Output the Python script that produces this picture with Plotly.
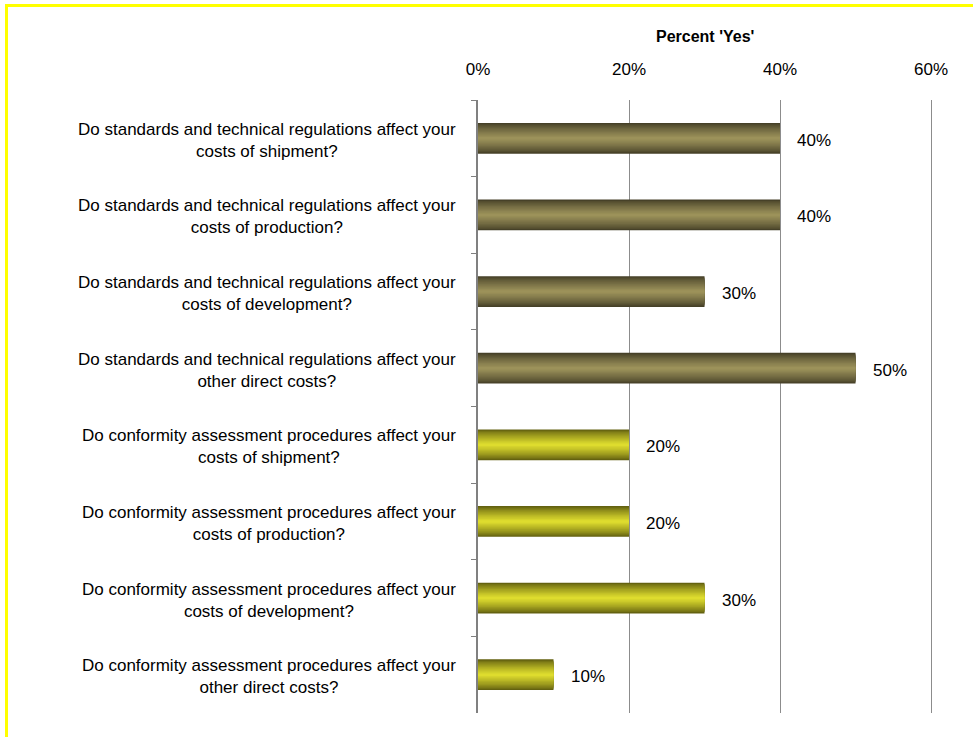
import plotly.graph_objects as go

categories = [
    "Do standards and technical regulations affect your<br>costs of shipment?",
    "Do standards and technical regulations affect your<br>costs of production?",
    "Do standards and technical regulations affect your<br>costs of development?",
    "Do standards and technical regulations affect your<br>other direct costs?",
    "Do conformity assessment procedures affect your<br>costs of shipment?",
    "Do conformity assessment procedures affect your<br>costs of production?",
    "Do conformity assessment procedures affect your<br>costs of development?",
    "Do conformity assessment procedures affect your<br>other direct costs?",
]
values = [0.40, 0.40, 0.30, 0.50, 0.20, 0.20, 0.30, 0.10]
groups = ["std", "std", "std", "std", "conf", "conf", "conf", "conf"]
tick_vals = [0, 0.2, 0.4, 0.6]
tick_text = ["0%", "20%", "40%", "60%"]
axis_title = "Percent 'Yes'"

W, H = 973, 737
L, R, T, B = 478, 36, 100, 24
pw, ph = W - L - R, H - T - B
x_end = 0.6 * pw / 453.0  # keeps 60% at the same pixel while leaving room for its gridline

def px_x(p):
    return (p - L) / pw

def px_y(p):
    return (H - B - p) / ph

FONT = "Liberation Sans, Arial"
edge = {"std": (0x46, 0x41, 0x28), "conf": (0x64, 0x62, 0x10)}
center = {"std": (0x9c, 0x92, 0x5a), "conf": (0xde, 0xdc, 0x2e)}

def mix(a, b, t):
    return "rgb(%d,%d,%d)" % tuple(round(a[i] + (b[i] - a[i]) * t) for i in range(3))

fig = go.Figure()
N = 12
bar_w = 0.4
for i in range(N):
    t = i / (N - 1)
    w = bar_w * (1 - i / N)
    cols = [mix(edge[g], center[g], t ** 0.8) for g in groups]
    fig.add_trace(go.Bar(
        x=values, y=categories, orientation="h", width=w,
        marker=dict(color=cols, line=dict(width=0)),
        showlegend=False, hoverinfo="skip",
    ))

for cat, v in zip(categories, values):
    fig.add_annotation(x=v, y=cat, xref="x", yref="y", text=f"{v:.0%}",
                       showarrow=False, xanchor="left", xshift=15, yshift=-2,
                       font=dict(family=FONT, size=17, color="#000"))
    fig.add_annotation(x=px_x(458), y=cat, xref="paper", yref="y", text=cat,
                       showarrow=False, xanchor="right", align="center", yshift=-2,
                       font=dict(family=FONT, size=17, color="#000"))

fig.add_annotation(x=px_x(705), y=px_y(37), xref="paper", yref="paper", text=f"<b>{axis_title}</b>",
                   showarrow=False, xanchor="center", yanchor="middle",
                   font=dict(family=FONT, size=16, color="#000"))

# yellow frame
fig.add_shape(type="rect", xref="paper", yref="paper",
              x0=px_x(6.5), x1=px_x(990), y0=px_y(5.5), y1=px_y(760),
              line=dict(color="#ffff00", width=3), fillcolor="rgba(0,0,0,0)", layer="below")

fig.update_layout(
    width=W, height=H, margin=dict(l=L, r=R, t=T, b=B, pad=0),
    paper_bgcolor="white", plot_bgcolor="white",
    barmode="overlay", bargap=0.6,
    font=dict(family=FONT, size=17, color="#000"),
    xaxis=dict(side="top", range=[0, x_end], tickvals=tick_vals, ticktext=tick_text,
               showgrid=True, gridcolor="#8c8c8c", gridwidth=1, zeroline=False,
               showline=False, ticks="outside", ticklen=17, tickcolor="rgba(0,0,0,0)",
               tickfont=dict(size=17)),
    yaxis=dict(autorange="reversed", showticklabels=False, showgrid=False,
               showline=True, linecolor="#808080", linewidth=1.5,
               ticks="outside", ticklen=5, tickcolor="#808080", tickson="boundaries"),
)

fig.write_html("out.html", config={"displayModeBar": False},
               post_script="document.body.style.margin='0';")
